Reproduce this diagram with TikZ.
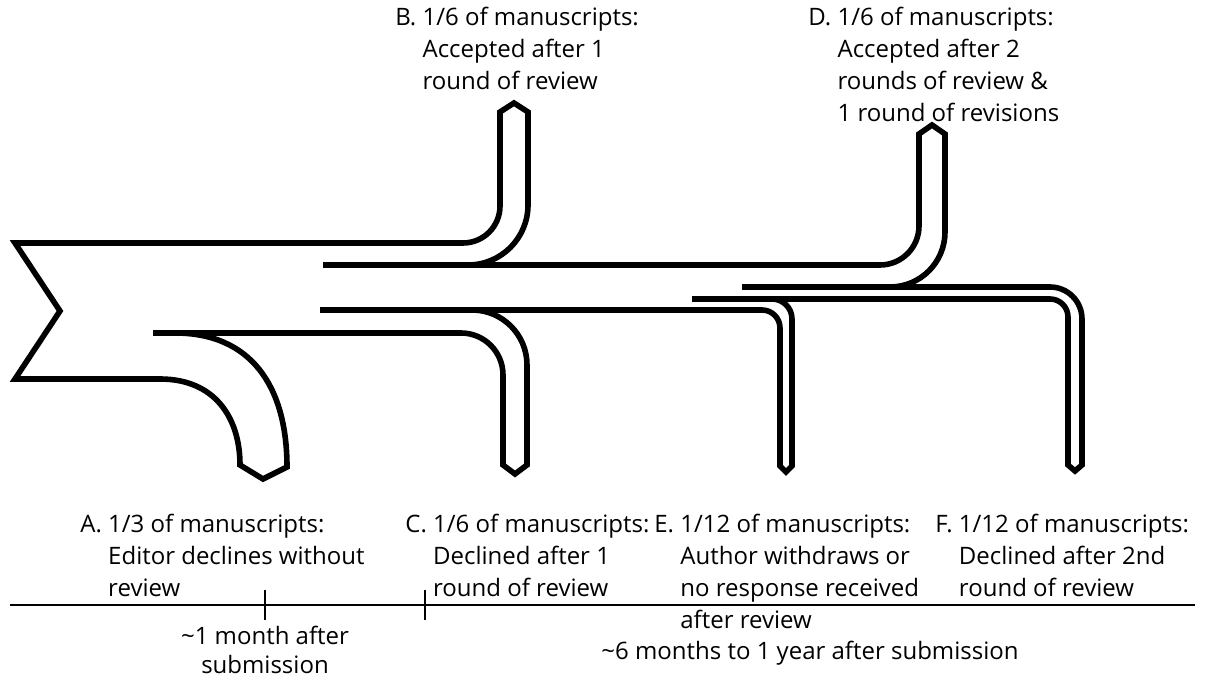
\documentclass[tikz,border=0pt]{standalone}
\usepackage{fontspec}
\setmainfont{Open Sans}
\begin{document}
\begin{tikzpicture}[x=0.5pt,y=0.5pt,
  band/.style={line width=2.8pt, miter limit=10},
  tl/.style={line width=0.8pt},
  lbl/.style={anchor=base west, inner sep=0pt, font=\fontsize{12}{16}\selectfont},
  tlbl/.style={anchor=base, inner sep=0pt, font=\fontsize{12}{14.5}\selectfont, align=center},
]
\useasboundingbox (0,0) rectangle (1217,680);

% tail, B branch and A branch
\draw[band] (455,415) -- (468,415) arc[start angle=-90,end angle=0,radius=60]
  -- (528,568) -- (514,577) -- (500,568) -- (500,474)
  arc[start angle=0,end angle=-90,radius=37] -- (15,437) -- (60,369) -- (15,301)
  -- (160,301) .. controls (215,301) and (240,262) .. (240,215) -- (263,201) -- (287,213)
  .. controls (287,295) and (250,347) .. (175,347) -- (165,347);
% main top line and D branch
\draw[band] (323,415) -- (880,415) arc[start angle=-90,end angle=0,radius=39]
  -- (919,546) -- (932,555) -- (945,546) -- (945,448)
  arc[start angle=0,end angle=-90,radius=55] -- (880,393);
% F branch
\draw[band] (742,393) -- (1050,393) arc[start angle=90,end angle=0,radius=32]
  -- (1082,215) -- (1075,209) -- (1068,215) -- (1068,363)
  arc[start angle=0,end angle=90,radius=18] -- (692,381);
% E branch
\draw[band] (762,381) -- (772,381) arc[start angle=90,end angle=0,radius=20]
  -- (792,214) -- (786,208) -- (780,214) -- (780,352)
  arc[start angle=0,end angle=90,radius=18] -- (320,370);
% C branch
\draw[band] (460,370) -- (472,370) arc[start angle=90,end angle=0,radius=55]
  -- (527,215) -- (515,206) -- (503,215) -- (503,305)
  arc[start angle=0,end angle=90,radius=42] -- (153,347);

% timeline
\draw[tl] (10,75) -- (1195,75);
\draw[tl] (265,90) -- (265,60);
\draw[tl] (425,90) -- (425,60);

% labels
\node[lbl] (labB) at (395,654) {\begin{tabular}[t]{@{}l@{\ }l@{}}B. & 1/6 of manuscripts:\\ & Accepted after 1\\ & round of review\end{tabular}};
\node[lbl] (labD) at (808,654) {\begin{tabular}[t]{@{}l@{\ }l@{}}D. & 1/6 of manuscripts:\\ & Accepted after 2\\ & rounds of review \&\\ & 1 round of revisions\end{tabular}};
\node[lbl] (labA) at (80,147) {\begin{tabular}[t]{@{}l@{\ }l@{}}A. & 1/3 of manuscripts:\\ & Editor declines without\\ & review\end{tabular}};
\node[lbl] (labC) at (405,147) {\begin{tabular}[t]{@{}l@{\ }l@{}}C. & 1/6 of manuscripts:\\ & Declined after 1\\ & round of review\end{tabular}};
\node[lbl] (labE) at (654,147) {\begin{tabular}[t]{@{}l@{\ }l@{}}E. & 1/12 of manuscripts:\\ & Author withdraws or\\ & no response received\\ & after review\end{tabular}};
\node[lbl] (labF) at (935,147) {\begin{tabular}[t]{@{}l@{\ }l@{}}F. & 1/12 of manuscripts:\\ & Declined after 2nd\\ & round of review\end{tabular}};
\node[tlbl] (t1) at (265,6) {\textasciitilde1 month after\\submission};
\node[tlbl] (t2) at (810,20) {\textasciitilde6 months to 1 year after submission};
\end{tikzpicture}
\end{document}
